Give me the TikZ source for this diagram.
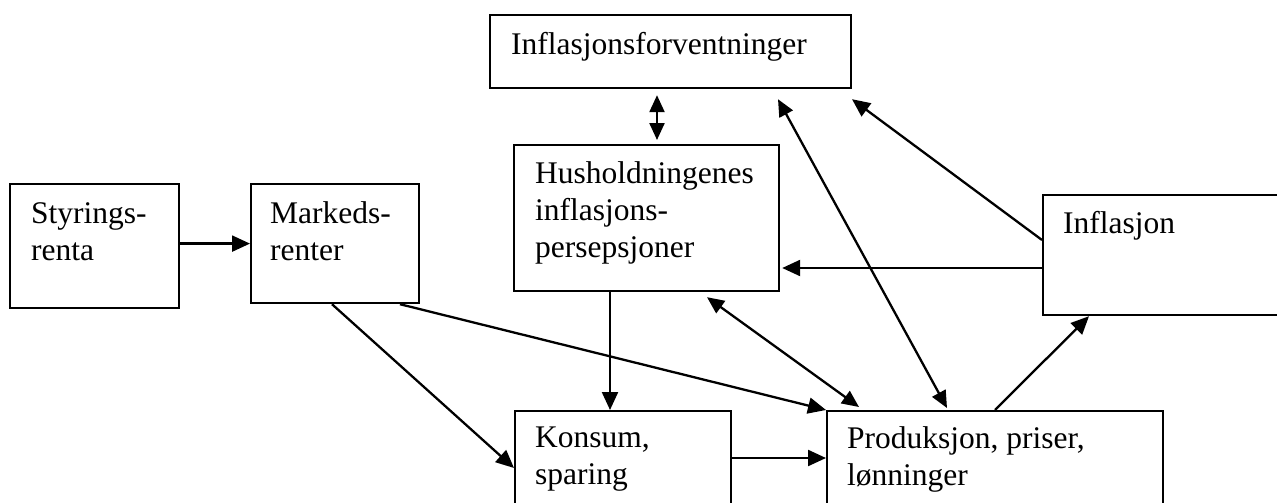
\documentclass[tikz,border=0pt]{standalone}
\usepackage{fontspec}
\setmainfont{Liberation Serif}
\usetikzlibrary{arrows.meta,calc}

\tikzset{
  box/.style={draw, line width=2.2pt, rectangle, inner sep=0pt, anchor=north west},
  % multi-line labels are placed by the baseline of their last line
  lbl/.style={anchor=base west, inner sep=0pt, align=left,
    font=\fontsize{31.5}{37}\selectfont},
  conn/.style={line width=2.3pt, -{Triangle[length=18pt,width=16pt]}},
  biconn/.style={line width=2.3pt, {Triangle[length=17pt,width=15pt]}-{Triangle[length=17pt,width=15pt]}},
}

\begin{document}
\begin{tikzpicture}[x=1pt,y=-1pt]
\useasboundingbox (0,0) rectangle (1277,503);
\clip (0,0) rectangle (1277,503);

% boxes (top-left corner, size)
\node[box, minimum width=361pt, minimum height=73pt]  (forv) at (489,14)  {};
\node[box, minimum width=265pt, minimum height=146pt] (hush) at (513,144) {};
\node[box, minimum width=169pt, minimum height=124pt] (styr) at (9,183)   {};
\node[box, minimum width=168pt, minimum height=119pt] (mark) at (250,183) {};
\node[box, minimum width=250pt, minimum height=120pt] (infl) at (1042,194) {};
\node[box, minimum width=216pt, minimum height=120pt] (kons) at (514,410) {};
\node[box, minimum width=336pt, minimum height=120pt] (prod) at (826,410) {};

% texts
\node[lbl] (tforv) at (511,55)  {Inflasjonsforventninger};
\node[lbl] (thush) at (535,257) {Husholdningenes\\inflasjons-\\persepsjoner};
\node[lbl] (tstyr) at (31,260)  {Styrings-\\renta};
\node[lbl] (tmark) at (270,260) {Markeds-\\renter};
\node[lbl] (tinfl) at (1063,233) {Inflasjon};
\node[lbl] (tkons) at (535,484) {Konsum,\\sparing};
\node[lbl] (tprod) at (847,485) {Produksjon, priser,\\lønninger};

% connector end points on the box borders
\coordinate (mk1) at ($(mark.south west)+(82,0)$);
\coordinate (mk2) at ($(mark.south west)+(150,0)$);
\coordinate (ko1) at ($(kons.north west)+(0,58)$);
\coordinate (ko2) at ($(kons.north east)+(0,48)$);
\coordinate (hu1) at ($(hush.south west)+(97,0)$);
\coordinate (hu2) at ($(hush.south west)+(194,5)$);
\coordinate (hu3) at ($(hush.north west)+(144,-4)$);
\coordinate (hu4) at ($(hush.north east)+(2,124)$);
\coordinate (fo1) at ($(forv.south west)+(168,6)$);
\coordinate (fo2) at ($(forv.south west)+(289,10)$);
\coordinate (fo3) at ($(forv.south west)+(363,10)$);
\coordinate (pr1) at ($(prod.north west)+(33,-3)$);
\coordinate (pr2) at ($(prod.north west)+(121,-2)$);
\coordinate (pr3) at ($(prod.north west)+(169,0)$);
\coordinate (in1) at ($(infl.north west)+(0,46)$);
\coordinate (in2) at ($(infl.north west)+(0,74)$);
\coordinate (in3) at ($(infl.south west)+(47,0)$);

% connectors
\draw[conn] (styr.east |- mark.west) -- (mark.west);
\draw[conn] (mk1) -- (ko1);
\draw[conn] (mk2) -- (prod.north west);
\draw[conn] (hu1) -- (hu1 |- kons.north);
\draw[conn] (ko2) -- (ko2 -| prod.west);
\draw[biconn] (hu2) -- (pr1);
\draw[biconn] (hu3) -- (hu3 |- fo1);
\draw[biconn] (fo2) -- (pr2);
\draw[conn] (in1) -- (fo3);
\draw[conn] (in2) -- (hu4);
\draw[conn] (pr3) -- (in3);
\end{tikzpicture}
\end{document}
